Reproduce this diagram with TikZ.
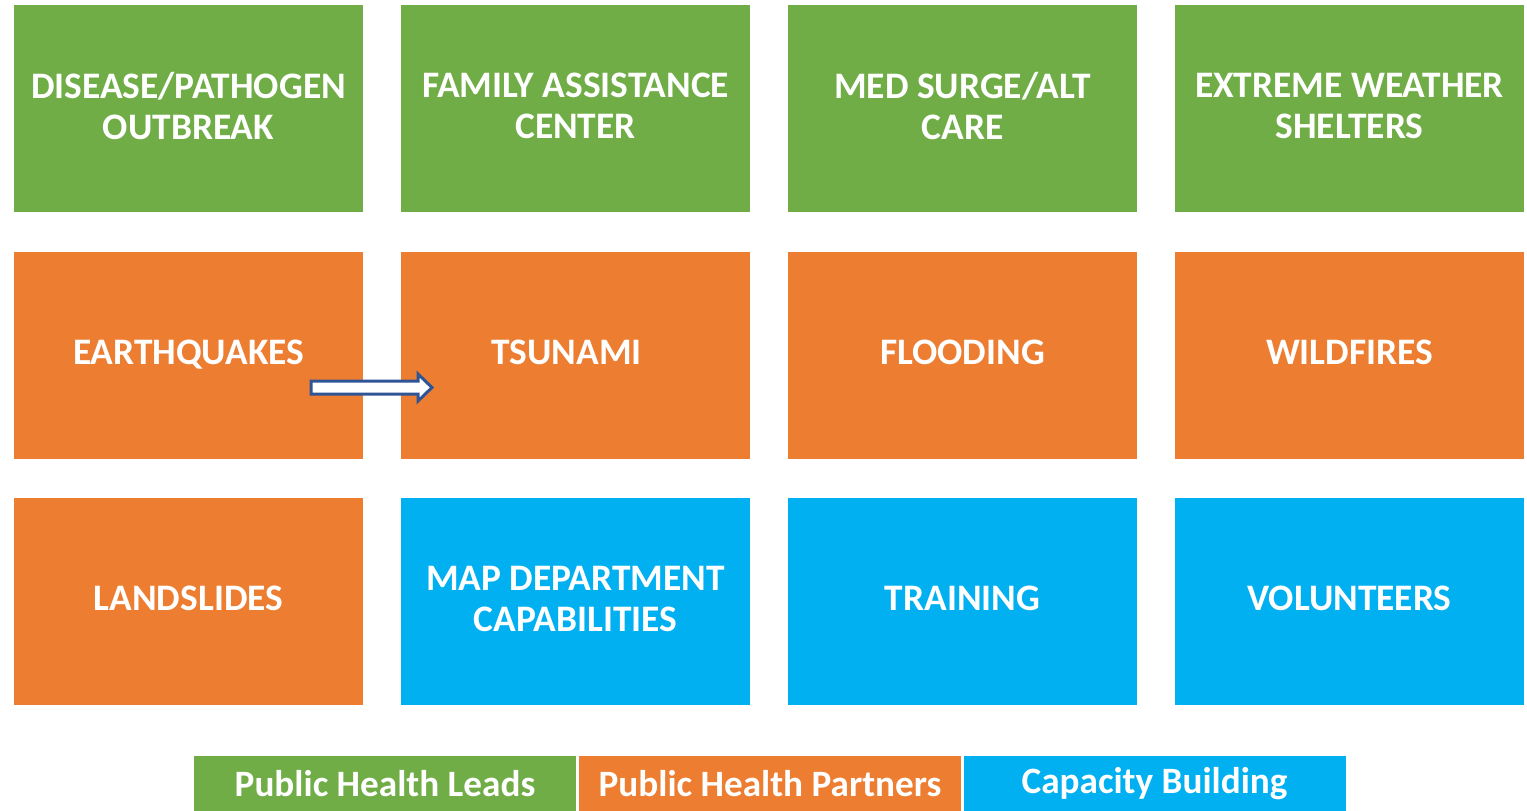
\documentclass[tikz,border=0pt]{standalone}
\usepackage{fontspec}
\setmainfont{Carlito}
\definecolor{leadgreen}{HTML}{70AD47}
\definecolor{partnerorange}{HTML}{ED7D31}
\definecolor{capblue}{HTML}{00B0F0}
\definecolor{arrowblue}{HTML}{2F5597}
\tikzset{
  tile/.style={rectangle, inner sep=0pt, minimum width=174.5pt, minimum height=103.5pt,
    text=white, align=center, font=\fontsize{18.7}{20.5}\selectfont\bfseries,
    execute at begin node=\vphantom{Q}},
  keybox/.style={rectangle, inner sep=0pt, minimum width=191pt, minimum height=28pt,
    text=white, align=center, font=\fontsize{18.6}{18.6}\selectfont\bfseries}
}
\begin{document}
\begin{tikzpicture}[x=0.5pt,y=-0.5pt]
    \useasboundingbox (0,0) rectangle (1527,810);
    % top row
    \node[tile,fill=leadgreen] (disease) at (188.5,108.5) {DISEASE/PATHOGEN\\OUTBREAK};
    \node[tile,fill=leadgreen] (family) at (575.5,108.5) {FAMILY ASSISTANCE\\CENTER};
    \node[tile,fill=leadgreen] (medsurge) at (962.5,108.5) {MED SURGE/ALT\\CARE};
    \node[tile,fill=leadgreen] (weather) at (1349.5,108.5) {EXTREME WEATHER\\SHELTERS};
    % middle row
    \node[tile,fill=partnerorange] (quake) at (188.5,355) {EARTHQUAKES};
    \node[tile,fill=partnerorange] (tsunami) at (575.5,355) {TSUNAMI\hspace*{9pt}};
    \node[tile,fill=partnerorange] (flood) at (962.5,355) {FLOODING};
    \node[tile,fill=partnerorange] (fire) at (1349.5,355) {WILDFIRES};
    % bottom row
    \node[tile,fill=partnerorange] (slide) at (188.5,601) {LANDSLIDES};
    \node[tile,fill=capblue] (mapdept) at (575.5,601) {MAP DEPARTMENT\\CAPABILITIES};
    \node[tile,fill=capblue] (training) at (962.5,601) {TRAINING};
    \node[tile,fill=capblue] (volunteer) at (1349.5,601) {VOLUNTEERS};
    % block arrow
    \draw[arrowblue,fill=white,line width=1.5pt] (311,381) -- (418,381) -- (418,374)
      -- (432,387.5) -- (418,401) -- (418,394) -- (311,394) -- cycle;
    % legend
    \node[keybox,fill=leadgreen] (leads) at (385,784) {Public Health Leads};
    \node[keybox,fill=partnerorange] (partners) at (770,784) {Public Health Partners};
    \node[keybox,fill=capblue] (capacity) at (1154.5,784) {Capacity Building};
\end{tikzpicture}
\end{document}
